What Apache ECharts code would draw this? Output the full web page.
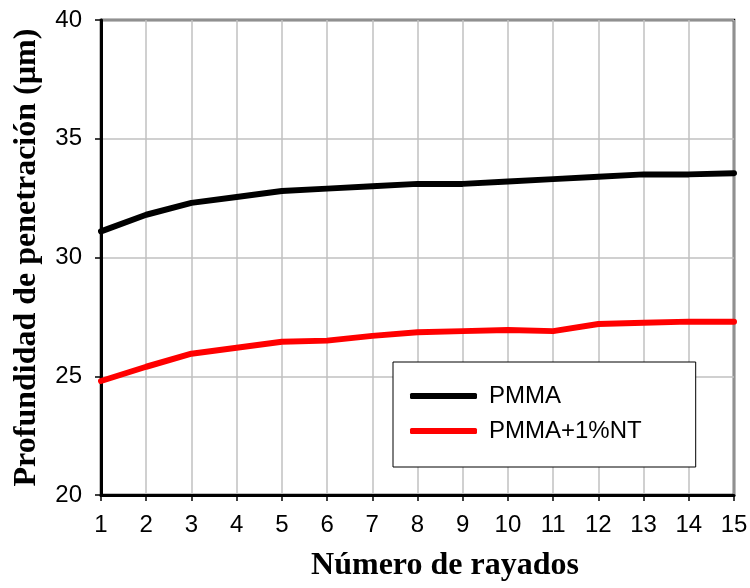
<!DOCTYPE html>
<html>
<head>
<meta charset="utf-8">
<script src="https://cdn.jsdelivr.net/npm/echarts@6/dist/echarts.min.js"></script>
<style>
  html, body { margin: 0; padding: 0; background: #fff; }
  #chart { width: 750px; height: 588px; }
</style>
</head>
<body>
<div id="chart"></div>
<script>
// número de rayados (x)
const rayados = [1, 2, 3, 4, 5, 6, 7, 8, 9, 10, 11, 12, 13, 14, 15];
// profundidad de penetración, µm
const pmma = [31.1, 31.8, 32.3, 32.55, 32.8, 32.9, 33.0, 33.1, 33.1, 33.2, 33.3, 33.4, 33.5, 33.5, 33.55];
const pmmaNT = [24.8, 25.4, 25.95, 26.2, 26.45, 26.5, 26.7, 26.85, 26.9, 26.95, 26.9, 27.2, 27.25, 27.3, 27.3];

const serifFont = '"Liberation Serif", "Times New Roman", serif';
const sansFont = '"Liberation Sans", Arial, sans-serif';

const chart = echarts.init(document.getElementById('chart'));

const toPairs = vals => rayados.map((x, i) => [x, vals[i]]);

chart.setOption({
  animation: false,
  grid: {
    left: 101, right: 16, top: 20, bottom: 93,
    containLabel: false,
    outerBoundsMode: 'none',
    show: true,
    borderColor: '#000',
    borderWidth: 2.5,
  },
  legend: {
    orient: 'vertical',
    left: 393,
    top: 362,
    padding: [22, 54, 24, 17],
    icon: 'roundRect',
    itemWidth: 67,
    itemHeight: 6,
    itemGap: 11,
    backgroundColor: '#fff',
    borderColor: '#000',
    borderWidth: 1,
    textStyle: {
      fontFamily: sansFont, fontSize: 24, lineHeight: 24, color: '#000',
      padding: [0, 0, 0, 7],
    },
    data: ['PMMA', 'PMMA+1%NT'],
  },
  xAxis: {
    type: 'value',
    min: 1,
    max: 15,
    interval: 1,
    name: 'Número de rayados',
    nameLocation: 'middle',
    nameGap: 55,
    nameTextStyle: {
      fontFamily: serifFont, fontSize: 32, fontWeight: 'bold', color: '#000',
      padding: [0, 0, 0, 55],
    },
    axisLine: { lineStyle: { color: '#000', width: 3 } },
    axisTick: { show: true, length: 6, lineStyle: { color: '#000', width: 1.5 } },
    axisLabel: { fontFamily: sansFont, fontSize: 24, color: '#000', margin: 18 },
    splitLine: { show: true, lineStyle: { color: '#c0c0c0', width: 1.5 } },
  },
  yAxis: {
    type: 'value',
    min: 20,
    max: 40,
    interval: 5,
    name: 'Profundidad de penetración (µm)',
    nameLocation: 'middle',
    nameGap: 58,
    nameTextStyle: { fontFamily: serifFont, fontSize: 32, fontWeight: 'bold', color: '#000' },
    axisLine: { show: true, lineStyle: { color: '#000', width: 3 } },
    axisTick: { show: true, length: 6, lineStyle: { color: '#000', width: 1.5 } },
    axisLabel: { fontFamily: sansFont, fontSize: 24, color: '#000', margin: 19 },
    splitLine: { show: true, lineStyle: { color: '#c0c0c0', width: 1.5 } },
  },
  series: [
    {
      name: 'PMMA',
      type: 'line',
      data: toPairs(pmma),
      symbol: 'none',
      color: '#000',
      lineStyle: { color: '#000', width: 6, cap: 'round', join: 'round' },
    },
    {
      name: 'PMMA+1%NT',
      type: 'line',
      data: toPairs(pmmaNT),
      symbol: 'none',
      color: '#ff0000',
      lineStyle: { color: '#ff0000', width: 6, cap: 'round', join: 'round' },
    },
  ],
});
</script>
</body>
</html>
